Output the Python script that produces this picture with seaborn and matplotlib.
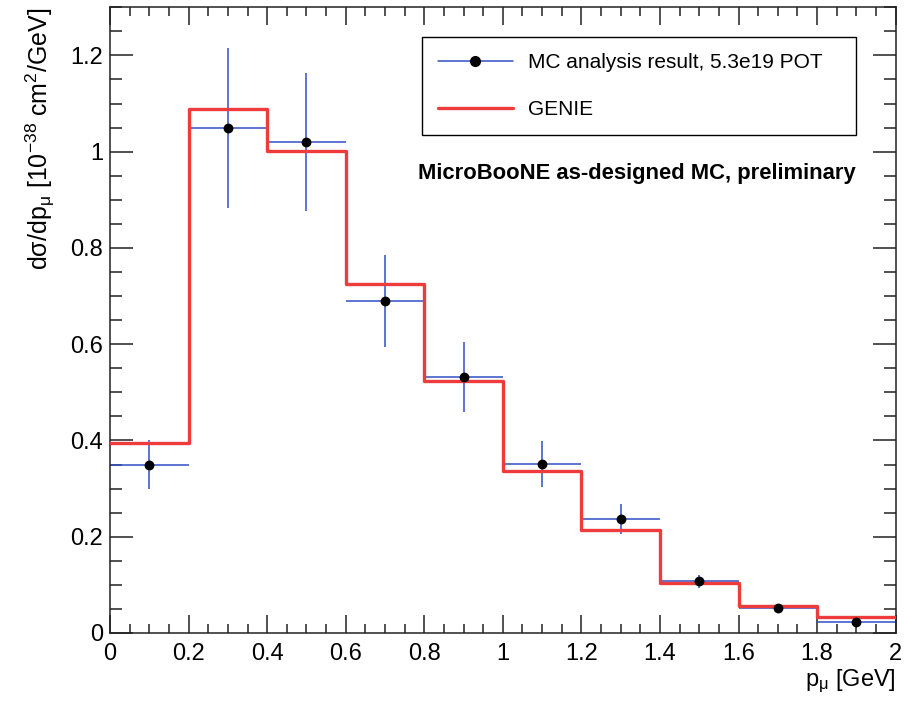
import numpy as np
import pandas as pd
import matplotlib
matplotlib.use("Agg")
import matplotlib.pyplot as plt
import seaborn as sns
from matplotlib.lines import Line2D
from matplotlib.ticker import MultipleLocator, FuncFormatter

# bin edges in p_mu [GeV]
bin_edges = [0.0, 0.2, 0.4, 0.6, 0.8, 1.0, 1.2, 1.4, 1.6, 1.8, 2.0]
bin_centers = [0.1, 0.3, 0.5, 0.7, 0.9, 1.1, 1.3, 1.5, 1.7, 1.9]

# MC analysis result (points) and errors
mc_values = [0.350, 1.050, 1.020, 0.690, 0.532, 0.351, 0.237, 0.107, 0.052, 0.023]
mc_errors = [0.050, 0.166, 0.144, 0.095, 0.072, 0.048, 0.032, 0.014, 0.005, 0.004]

# GENIE prediction (histogram)
genie_values = [0.395, 1.088, 1.002, 0.725, 0.524, 0.337, 0.215, 0.103, 0.056, 0.033]

red = "#EE3B3B"
blue = "#3050C8"

sns.set_style("ticks")
plt.rcParams['font.family'] = ['Liberation Sans', 'DejaVu Sans']
plt.rcParams['mathtext.fontset'] = 'custom'
plt.rcParams['mathtext.rm'] = 'Liberation Sans'
plt.rcParams['mathtext.it'] = 'Liberation Sans:italic'
plt.rcParams['mathtext.bf'] = 'Liberation Sans:bold'
for key in ['text.color', 'axes.labelcolor', 'xtick.color', 'ytick.color']:
    plt.rcParams[key] = 'black'

df_mc = pd.DataFrame({"p": bin_centers, "xsec": mc_values, "err": mc_errors})
df_genie = pd.DataFrame({"p": bin_centers, "xsec": genie_values})

fig = plt.figure(figsize=(9.13, 7.02), dpi=100)
ax = fig.add_axes([0.1205, 0.0983, 0.8605, 0.8913])

# error bars of the MC result
ax.errorbar(df_mc["p"], df_mc["xsec"], xerr=0.1, yerr=df_mc["err"],
            fmt="none", ecolor=blue, elinewidth=1.1, capsize=0, zorder=2)

# GENIE histogram
sns.histplot(data=df_genie, x="p", weights="xsec", bins=bin_edges,
             element="step", fill=False, color=red, linewidth=2.4,
             ax=ax, zorder=3)

# MC points
sns.scatterplot(data=df_mc, x="p", y="xsec", color="black", s=50,
                edgecolor="black", linewidth=0, ax=ax, zorder=4)

ax.set_xlim(0, 2)
ax.set_ylim(0, 1.3)

ax.xaxis.set_major_locator(MultipleLocator(0.2))
ax.xaxis.set_minor_locator(MultipleLocator(0.05))
ax.yaxis.set_major_locator(MultipleLocator(0.2))
ax.yaxis.set_minor_locator(MultipleLocator(0.05))
fmt = FuncFormatter(lambda v, pos: "%g" % round(v, 2))
ax.xaxis.set_major_formatter(fmt)
ax.yaxis.set_major_formatter(fmt)

ax.tick_params(axis="both", which="both", direction="in", top=True, right=True,
               width=1.1, color="#222222", labelsize=17, labelcolor="black")
ax.tick_params(axis="x", which="major", length=13, pad=7)
ax.tick_params(axis="x", which="minor", length=6.5)
ax.tick_params(axis="y", which="major", length=16.5, pad=5)
ax.tick_params(axis="y", which="minor", length=8.5)
for sp in ax.spines.values():
    sp.set_linewidth(1.1)
    sp.set_color("#222222")

ax.set_xlabel(r"p$_{\mathrm{μ}}$ [GeV]", fontsize=17, loc="right")
ax.xaxis.set_label_coords(1.0, -0.055)
ax.set_ylabel(r"d$\mathrm{σ}$/dp$_{\mathrm{μ}}$ [10$^{-38}$ cm$^{2}$/GeV]",
              fontsize=18, loc="top")
ax.yaxis.set_label_coords(-0.068, 1.0)

handles = [
    Line2D([], [], color=blue, linewidth=1.1, marker="o", markersize=7,
           markerfacecolor="black", markeredgecolor="black"),
    Line2D([], [], color=red, linewidth=2.4),
]
leg = ax.legend(handles, ["MC analysis result, 5.3e19 POT", "GENIE"],
                loc="upper left", bbox_to_anchor=(0.397, 0.952, 0.5525, 0.0),
                mode="expand", fontsize=15,
                frameon=True, fancybox=False, framealpha=1, edgecolor="black",
                borderpad=0.75, labelspacing=1.35, handlelength=3.6,
                handletextpad=0.75, borderaxespad=0, numpoints=1)
leg.get_frame().set_linewidth(1.0)

ax.text(0.671, 0.734, "MicroBooNE as-designed MC, preliminary",
        transform=ax.transAxes, ha="center", va="center",
        fontsize=15.8, fontweight="bold")

plt.savefig("out.png", dpi=100)
